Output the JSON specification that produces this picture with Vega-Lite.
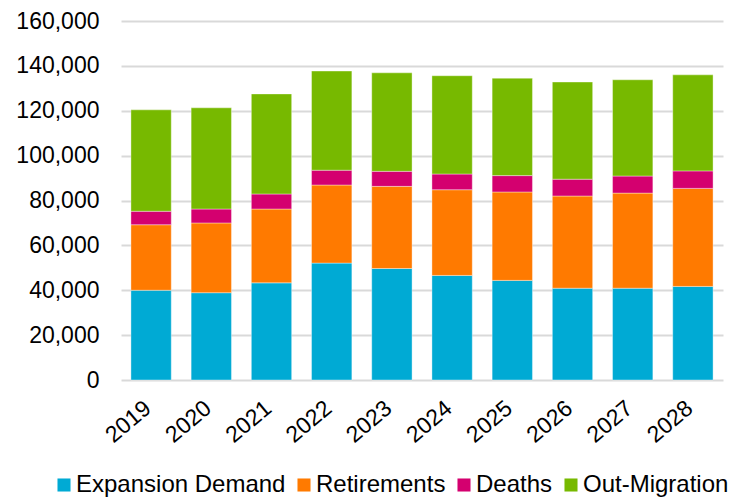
{
  "$schema": "https://vega.github.io/schema/vega-lite/v6.json",
  "width": 602,
  "height": 359,
  "autosize": {"type": "none"},
  "padding": {"left": 121, "top": 21, "right": 20, "bottom": 119},
  "background": "white",
  "config": {
    "font": "Liberation Sans",
    "view": {"stroke": null}
  },
  "data": {
    "values": [
      {"year": "2019", "category": "Expansion Demand", "ord": 1, "value": 40000},
      {"year": "2019", "category": "Retirements", "ord": 2, "value": 29200},
      {"year": "2019", "category": "Deaths", "ord": 3, "value": 6000},
      {"year": "2019", "category": "Out-Migration", "ord": 4, "value": 45200},
      {"year": "2020", "category": "Expansion Demand", "ord": 1, "value": 38900},
      {"year": "2020", "category": "Retirements", "ord": 2, "value": 31100},
      {"year": "2020", "category": "Deaths", "ord": 3, "value": 6200},
      {"year": "2020", "category": "Out-Migration", "ord": 4, "value": 45100},
      {"year": "2021", "category": "Expansion Demand", "ord": 1, "value": 43300},
      {"year": "2021", "category": "Retirements", "ord": 2, "value": 32900},
      {"year": "2021", "category": "Deaths", "ord": 3, "value": 6700},
      {"year": "2021", "category": "Out-Migration", "ord": 4, "value": 44600},
      {"year": "2022", "category": "Expansion Demand", "ord": 1, "value": 52100},
      {"year": "2022", "category": "Retirements", "ord": 2, "value": 34800},
      {"year": "2022", "category": "Deaths", "ord": 3, "value": 6600},
      {"year": "2022", "category": "Out-Migration", "ord": 4, "value": 44200},
      {"year": "2023", "category": "Expansion Demand", "ord": 1, "value": 49700},
      {"year": "2023", "category": "Retirements", "ord": 2, "value": 36600},
      {"year": "2023", "category": "Deaths", "ord": 3, "value": 6700},
      {"year": "2023", "category": "Out-Migration", "ord": 4, "value": 43900},
      {"year": "2024", "category": "Expansion Demand", "ord": 1, "value": 46600},
      {"year": "2024", "category": "Retirements", "ord": 2, "value": 38200},
      {"year": "2024", "category": "Deaths", "ord": 3, "value": 7000},
      {"year": "2024", "category": "Out-Migration", "ord": 4, "value": 43800},
      {"year": "2025", "category": "Expansion Demand", "ord": 1, "value": 44400},
      {"year": "2025", "category": "Retirements", "ord": 2, "value": 39400},
      {"year": "2025", "category": "Deaths", "ord": 3, "value": 7300},
      {"year": "2025", "category": "Out-Migration", "ord": 4, "value": 43400},
      {"year": "2026", "category": "Expansion Demand", "ord": 1, "value": 40900},
      {"year": "2026", "category": "Retirements", "ord": 2, "value": 41100},
      {"year": "2026", "category": "Deaths", "ord": 3, "value": 7500},
      {"year": "2026", "category": "Out-Migration", "ord": 4, "value": 43300},
      {"year": "2027", "category": "Expansion Demand", "ord": 1, "value": 40900},
      {"year": "2027", "category": "Retirements", "ord": 2, "value": 42400},
      {"year": "2027", "category": "Deaths", "ord": 3, "value": 7600},
      {"year": "2027", "category": "Out-Migration", "ord": 4, "value": 42900},
      {"year": "2028", "category": "Expansion Demand", "ord": 1, "value": 41700},
      {"year": "2028", "category": "Retirements", "ord": 2, "value": 43700},
      {"year": "2028", "category": "Deaths", "ord": 3, "value": 7800},
      {"year": "2028", "category": "Out-Migration", "ord": 4, "value": 42800}
    ]
  },
  "mark": {"type": "bar", "stroke": "white", "strokeWidth": 0.75, "strokeOpacity": 0.5},
  "encoding": {
    "x": {
      "field": "year",
      "type": "ordinal",
      "title": null,
      "scale": {"paddingInner": 0.33, "paddingOuter": 0.165},
      "axis": {
        "labelAngle": -40,
        "labelFontSize": 23,
        "labelColor": "black",
        "ticks": false,
        "domain": false,
        "labelPadding": 25,
        "labelOffset": -3,
        "labelAlign": "right",
        "labelBaseline": "middle"
      }
    },
    "y": {
      "field": "value",
      "type": "quantitative",
      "stack": "zero",
      "title": null,
      "scale": {"domain": [0, 160000], "nice": false},
      "axis": {
        "values": [0, 20000, 40000, 60000, 80000, 100000, 120000, 140000, 160000],
        "format": ",d",
        "labelFontSize": 23,
        "labelColor": "black",
        "labelPadding": 22,
        "ticks": false,
        "domain": false,
        "gridColor": "#d9d9d9",
        "gridWidth": 2
      }
    },
    "color": {
      "field": "category",
      "type": "nominal",
      "scale": {
        "domain": ["Expansion Demand", "Retirements", "Deaths", "Out-Migration"],
        "range": ["#00AAD4", "#FF7A00", "#D4006F", "#77B900"]
      },
      "legend": {
        "title": null,
        "orient": "none",
        "direction": "horizontal",
        "legendX": -69,
        "legendY": 452,
        "symbolType": "square",
        "symbolSize": 170,
        "symbolStrokeWidth": 0,
        "labelFontSize": 24,
        "labelColor": "black",
        "labelOffset": 0,
        "columnPadding": 6,
        "labelLimit": 400
      }
    },
    "order": {"field": "ord", "type": "quantitative", "sort": "ascending"}
  }
}
